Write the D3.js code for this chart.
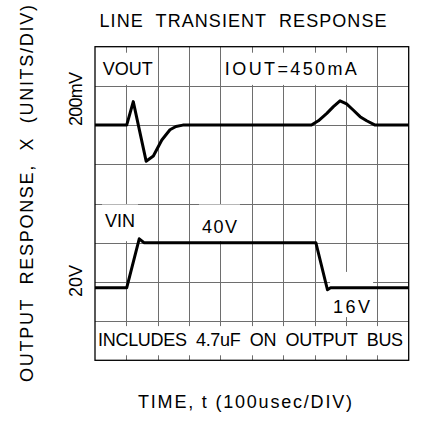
<!DOCTYPE html>
<meta charset="utf-8">
<style>
body { margin: 0; background: #fff; }
text { font-family: "Liberation Sans Narrow", "Liberation Sans", Arial, sans-serif; font-size: 18px; fill: #000; white-space: pre; }
.grid line { stroke: #6e6e6e; stroke-width: 1px; shape-rendering: crispEdges; }
.grid .domain { display: none; }
.trace { fill: none; stroke: #000; stroke-width: 3px; stroke-linejoin: round; }
.frame { fill: none; stroke: #000; stroke-width: 1.3px; }
</style>
<body>
<script src="https://cdn.jsdelivr.net/npm/d3@7"></script>
<script>

// time axis in usec (100usec/DIV), vertical in graticule divisions
var gridTimes = [100, 200, 300, 400, 500, 600, 700, 800, 900];
var gridDivs = [1, 2, 3, 4, 5, 6, 7];

// VOUT trace, deviation in mV (200mV/DIV), baseline at div 6
var voutTime = [0, 101, 122, 163, 186, 213, 239, 258, 280, 293, 690, 712, 739, 760, 781, 802, 823, 845, 866, 893, 1000];
var voutMv   = [0, 0, 120, -184, -158, -76, -24, -7, 0, 0, 0, 22, 60, 94, 124, 108, 77, 43, 22, 0, 0];

// VIN trace in volts (20V/DIV), 40V sits on div 3
var vinTime = [0, 101, 141, 156, 704, 741, 751, 1000];
var vinV    = [17, 17, 42, 40, 40, 16, 17, 17];

var width = 423, height = 426;
var svg = d3.select("body").append("svg")
    .attr("width", width)
    .attr("height", height);

var x = d3.scaleLinear().domain([0, 1000]).range([95, 408.7]);
var y = d3.scaleLinear().domain([0, 8]).range([360.3, 46.7]);
var plotH = y(0) - y(8), plotW = x(1000) - x(0);

function voutDiv(mv) { return 6 + mv / 200; }
function vinDiv(v) { return 3 + (v - 40) / 20; }

// grid
svg.append("g")
    .attr("class", "grid")
    .attr("transform", "translate(0," + y(8) + ")")
    .call(d3.axisTop(x).tickValues(gridTimes).tickSize(-plotH).tickFormat(""));
svg.append("g")
    .attr("class", "grid")
    .attr("transform", "translate(" + x(0) + ",0)")
    .call(d3.axisLeft(y).tickValues(gridDivs).tickSize(-plotW).tickFormat(""));

var masks = svg.append("g");
var labels = svg.append("g");

// labels inside the screen; the grid is blanked behind them
function screenLabel(str, t, d, len, anchor, top, bottom) {
  var tx = labels.append("text")
      .attr("x", x(t)).attr("y", y(d))
      .attr("text-anchor", anchor || "start")
      .attr("textLength", len)
      .attr("lengthAdjust", "spacing")
      .text(str);
  var b = tx.node().getBBox();
  masks.append("rect")
      .attr("x", b.x - 3).attr("width", b.width + 6)
      .attr("y", top).attr("height", bottom - top)
      .attr("fill", "#fff");
}

screenLabel("VOUT", 25, 7.28, 50, "start", y(8) + 6, y(7) - 1);
screenLabel("IOUT=450mA", 414, 7.28, 132, "start", y(8) + 6, y(7) - 1);
screenLabel("VIN", 32, 3.40, 30, "start", y(4) + 1, y(3) - 1.5);
screenLabel("40V", 341, 3.25, 35, "start", y(4) + 1, y(3) - 1.5);
screenLabel("16V", 759, 1.21, 37, "start", y(2) - 10, y(1) - 4);
screenLabel("INCLUDES  4.7uF  ON  OUTPUT  BUS", 496, 0.365, 305, "middle", y(1) + 5, y(0) - 5);

// traces
var voutLine = d3.line()
    .x(function(d) { return x(d[0]); })
    .y(function(d) { return y(voutDiv(d[1])); });
var vinLine = d3.line()
    .x(function(d) { return x(d[0]); })
    .y(function(d) { return y(vinDiv(d[1])); });

svg.append("path")
    .datum(d3.zip(voutTime, voutMv))
    .attr("class", "trace")
    .attr("d", voutLine);
svg.append("path")
    .datum(d3.zip(vinTime, vinV))
    .attr("class", "trace")
    .attr("d", vinLine);

// frame
svg.append("rect")
    .attr("class", "frame")
    .attr("x", x(0)).attr("y", y(8))
    .attr("width", plotW).attr("height", plotH);

// outer texts
svg.append("text")
    .attr("x", 243).attr("y", 27)
    .attr("text-anchor", "middle")
    .attr("textLength", 287).attr("lengthAdjust", "spacing")
    .text("LINE  TRANSIENT  RESPONSE");

svg.append("text")
    .attr("x", 245).attr("y", 408)
    .attr("text-anchor", "middle")
    .attr("textLength", 214).attr("lengthAdjust", "spacing")
    .text("TIME, t (100usec/DIV)");

svg.append("text")
    .attr("transform", "translate(33,193.5) rotate(-90)")
    .attr("text-anchor", "middle")
    .attr("textLength", 377).attr("lengthAdjust", "spacing")
    .text("OUTPUT  RESPONSE,  X  (UNITS/DIV)");

svg.append("text")
    .attr("transform", "translate(82,99) rotate(-90)")
    .attr("text-anchor", "middle")
    .attr("textLength", 54).attr("lengthAdjust", "spacing")
    .text("200mV");

svg.append("text")
    .attr("transform", "translate(82,281) rotate(-90)")
    .attr("text-anchor", "middle")
    .attr("textLength", 32).attr("lengthAdjust", "spacing")
    .text("20V");

</script>
</body>
